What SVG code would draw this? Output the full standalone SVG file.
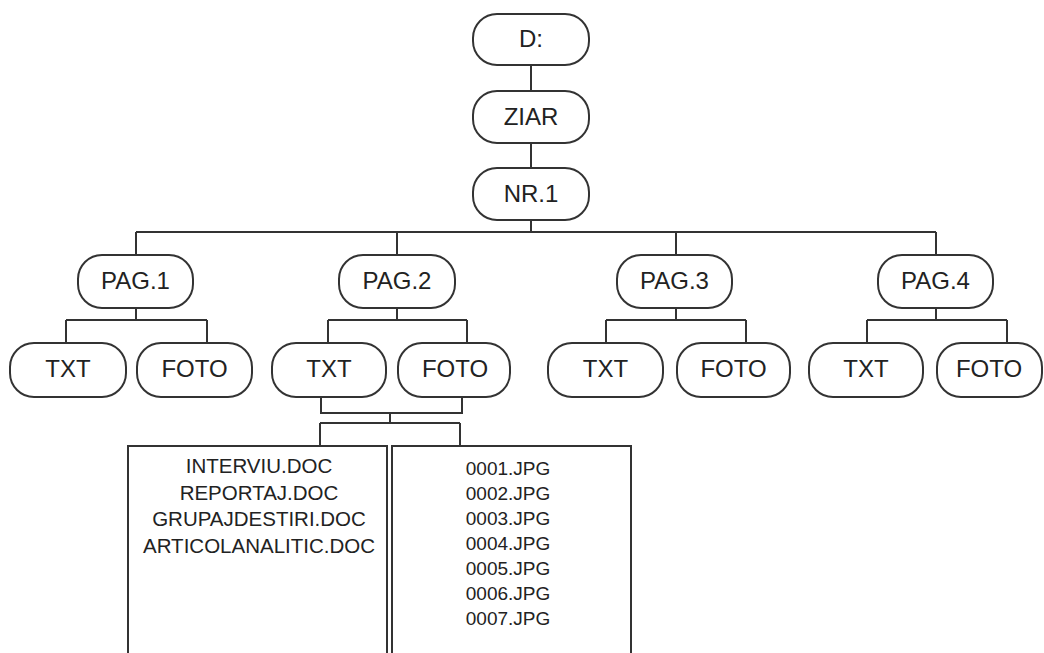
<svg xmlns="http://www.w3.org/2000/svg" width="1044" height="653" viewBox="0 0 1044 653">
  <style>
    .node rect { fill: #ffffff; stroke: #333333; stroke-width: 2; }
    .lbl { font-family: "Liberation Sans", Arial, sans-serif; font-size: 24px; fill: #222222; text-anchor: middle; }
    .list { font-family: "Liberation Sans", Arial, sans-serif; fill: #222222; text-anchor: middle; }
    .conn { fill: none; stroke: #333333; stroke-width: 2; }
  </style>
  <rect width="1044" height="653" fill="#ffffff"/>

  <!-- connectors -->
  <g id="connectors" class="conn">
    <path d="M531 65 V91 M531 143 V168 M531 220 V232"/>
    <path d="M136 232 H936 M136 232 V255 M397 232 V255 M676 232 V255 M936 232 V255"/>
    <!-- PAG.1 -->
    <path d="M136 308 V320 M66 320 H207 M66 320 V343 M207 320 V343"/>
    <!-- PAG.2 -->
    <path d="M397 308 V320 M328 320 H467 M328 320 V343 M467 320 V343"/>
    <!-- PAG.3 -->
    <path d="M676 308 V320 M606 320 H746 M606 320 V343 M746 320 V343"/>
    <!-- PAG.4 -->
    <path d="M936 308 V320 M867 320 H1007 M867 320 V343 M1007 320 V343"/>
    <!-- PAG.2 TXT/FOTO to file lists -->
    <path d="M321 397 V413 H462 V397 M390 413 V423 M320 423 H460 M320 423 V446 M460 423 V446"/>
  </g>

  <g id="n-d" class="node"><rect x="473" y="14" width="116" height="51" rx="24"/><text class="lbl" x="531" y="47">D:</text></g>
  <g id="n-ziar" class="node"><rect x="473" y="91" width="116" height="52" rx="24"/><text class="lbl" x="531" y="125">ZIAR</text></g>
  <g id="n-nr1" class="node"><rect x="473" y="168" width="116" height="52" rx="24"/><text class="lbl" x="531" y="202">NR.1</text></g>

  <g id="n-pag1" class="node"><rect x="78" y="255" width="115" height="53" rx="24"/><text class="lbl" x="135.5" y="289">PAG.1</text></g>
  <g id="n-pag2" class="node"><rect x="339" y="255" width="116" height="53" rx="24"/><text class="lbl" x="397" y="289">PAG.2</text></g>
  <g id="n-pag3" class="node"><rect x="617" y="255" width="115" height="53" rx="24"/><text class="lbl" x="674.5" y="289">PAG.3</text></g>
  <g id="n-pag4" class="node"><rect x="878" y="255" width="115" height="53" rx="24"/><text class="lbl" x="935.5" y="289">PAG.4</text></g>

  <g id="n-txt1" class="node"><rect x="10" y="343" width="116" height="54" rx="24"/><text class="lbl" x="68" y="377">TXT</text></g>
  <g id="n-foto1" class="node"><rect x="137" y="343" width="115" height="54" rx="24"/><text class="lbl" x="194.5" y="377">FOTO</text></g>
  <g id="n-txt2" class="node"><rect x="272" y="343" width="114" height="54" rx="24"/><text class="lbl" x="329" y="377">TXT</text></g>
  <g id="n-foto2" class="node"><rect x="398" y="343" width="112" height="54" rx="24"/><text class="lbl" x="455" y="377">FOTO</text></g>
  <g id="n-txt3" class="node"><rect x="548" y="343" width="115" height="54" rx="24"/><text class="lbl" x="605.5" y="377">TXT</text></g>
  <g id="n-foto3" class="node"><rect x="677" y="343" width="113" height="54" rx="24"/><text class="lbl" x="733.5" y="377">FOTO</text></g>
  <g id="n-txt4" class="node"><rect x="809" y="343" width="114" height="54" rx="24"/><text class="lbl" x="866" y="377">TXT</text></g>
  <g id="n-foto4" class="node"><rect x="937" y="343" width="105" height="54" rx="24"/><text class="lbl" x="989" y="377">FOTO</text></g>

  <g id="n-docs" class="node">
    <rect x="128" y="446" width="259" height="230" rx="0"/>
    <text class="list" font-size="20.5" x="259" y="473">INTERVIU.DOC</text>
    <text class="list" font-size="20.5" x="259" y="500">REPORTAJ.DOC</text>
    <text class="list" font-size="20.5" x="259" y="526">GRUPAJDESTIRI.DOC</text>
    <text class="list" font-size="20.5" x="259" y="553">ARTICOLANALITIC.DOC</text>
  </g>
  <g id="n-jpgs" class="node">
    <rect x="392" y="446" width="239" height="230" rx="0"/>
    <text class="list" font-size="19" x="508" y="475">0001.JPG</text>
    <text class="list" font-size="19" x="508" y="500">0002.JPG</text>
    <text class="list" font-size="19" x="508" y="525">0003.JPG</text>
    <text class="list" font-size="19" x="508" y="550">0004.JPG</text>
    <text class="list" font-size="19" x="508" y="575">0005.JPG</text>
    <text class="list" font-size="19" x="508" y="600">0006.JPG</text>
    <text class="list" font-size="19" x="508" y="625">0007.JPG</text>
  </g>
</svg>
